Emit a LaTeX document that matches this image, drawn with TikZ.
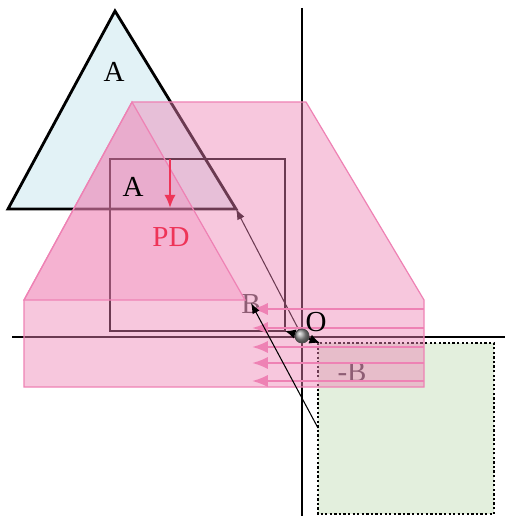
\documentclass[tikz,border=0pt]{standalone}
\usepackage{fontspec}
\setmainfont{Liberation Serif}
\usetikzlibrary{arrows.meta}
\definecolor{triblue}{RGB}{226,242,246}
\definecolor{sqgreen}{RGB}{227,239,221}
\definecolor{sumpink}{RGB}{238,130,180}
\definecolor{pdred}{RGB}{238,52,88}

\begin{document}
\begin{tikzpicture}[x=0.02cm, y=-0.02cm,
lbl/.style={inner sep=0pt, font=\fontsize{16.5}{19}\selectfont},
pusharrow/.style={sumpink, line width=1.3pt, -{Latex[length=9pt,width=7pt]}},
thinvec/.style={line width=0.6pt, -{Latex[length=6pt,width=4.5pt]}},
ballvec/.style={line width=1.1pt, -{Latex[length=6pt,width=5.5pt]}}
]
\useasboundingbox (0,0) rectangle (505,516);

% Named points
\coordinate (O) at (302,336);
\coordinate (a1) at (115,11);
\coordinate (a2) at (8,209);
\coordinate (a3) at (236,209);
\coordinate (Bc) at (285,331);
\coordinate (nBc) at (320,343);

% Draw triangle A
\draw[fill=triblue, line width=1.6pt] (a1) -- (a2) -- (a3) -- cycle;

% Draw axes
\draw[line width=1.1pt] (12,337) -- (505,337);
\draw[line width=1.1pt] (302,8) -- (302,516);

% Draw square B and its mirror -B
\draw[line width=1.4pt] (110,159) rectangle (Bc);
\draw[fill=sqgreen, line width=1.6pt, dash pattern=on 1.3pt off 1.3pt] (318,343) rectangle (494,514);
\node[lbl, text=black!75] (Blbl) at (251,304) {B};
\node[lbl, text=black!75] (nBlbl) at (352,372) {-B};

% Vector from O to the vertex of A
\draw[thinvec] (O) -- (a3);

% Fill the difference A - B
\draw[sumpink, line width=0.7pt, fill=sumpink, fill opacity=0.45]
(132,102) -- (306,102) -- (424,300) -- (424,387) -- (24,387) -- (24,300) -- cycle;
\draw[sumpink, line width=0.7pt, fill=sumpink, fill opacity=0.3]
(132,102) -- (24,300) -- (245,300) -- cycle;

% Pink arrows pushing to the left
\foreach \y [count=\i] in {309,328,347,363,381} {
\coordinate (s\i) at (424,\y);
\coordinate (t\i) at (252,\y);
\draw[pusharrow] (s\i) -- (t\i);
}

% Vector from -B back to B
\coordinate (q) at (318,428);
\coordinate (b) at (251,303);
\draw[thinvec] (q) -- (b);

% Penetration direction
\coordinate (pd1) at (170,159);
\coordinate (pd2) at (170,208);
\draw[pdred, line width=1.3pt, -{Latex[length=7.5pt,width=6.5pt]}] (pd1) -- (pd2);

% Labels
\node[lbl] (Atop) at (114,72) {A};
\node[lbl] (Ain) at (133,187) {A};
\node[lbl, text=pdred] (PD) at (171,237) {PD};

% Ball at the origin
\draw[ballvec] (O) -- (Bc);
\draw[ballvec] (O) -- (nBc);
\shade[ball color=gray!80, draw=black!70, line width=0.5pt] (O) circle[radius=7];
\node[lbl] (Olbl) at (316,322) {O};

\end{tikzpicture}
\end{document}
